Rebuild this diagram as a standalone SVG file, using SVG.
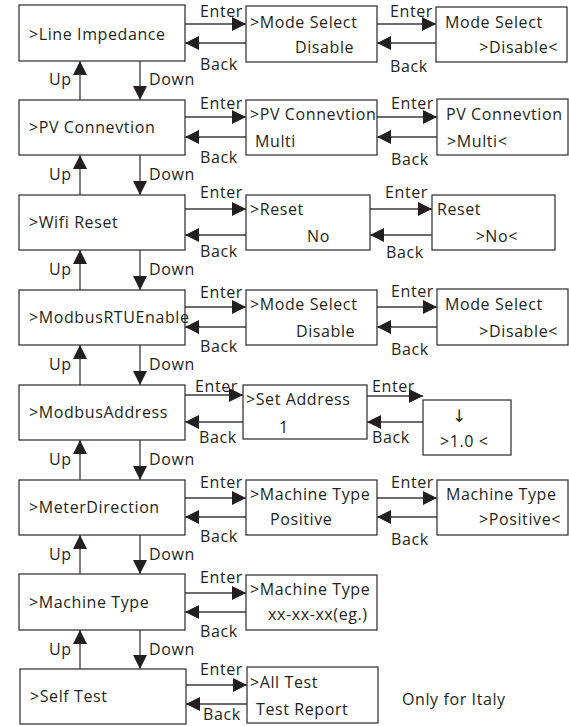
<svg xmlns="http://www.w3.org/2000/svg" width="569" height="726" viewBox="0 0 569 726">
<style>
.box{fill:#fff;stroke:#3a3a3a;stroke-width:1.3}
.t{font-family:"Open Sans","Noto Sans",sans-serif;font-size:16px;fill:#231f20;letter-spacing:0.6px}
.e{text-anchor:end}
.c{stroke:#3a3a3a;stroke-width:1.3;fill:none;marker-end:url(#ah)}
</style>
<defs>
<marker id="ah" viewBox="0 0 14 14" refX="14" refY="7" markerWidth="14" markerHeight="14" orient="auto" markerUnits="userSpaceOnUse"><path d="M0,0 L14,7 L0,14 z" fill="#231f20"/></marker>
</defs>
<rect width="569" height="726" fill="#fff"/>
<g id="connectors">
<line class="c" x1="185" y1="24" x2="246" y2="24"/><line class="c" x1="246" y1="43" x2="185" y2="43"/>
<line class="c" x1="377" y1="24" x2="436" y2="24"/><line class="c" x1="436" y1="43" x2="377" y2="43"/>
<text class="t" x="200" y="17">Enter</text><text class="t" x="200" y="70">Back</text>
<text class="t" x="390" y="17">Enter</text><text class="t" x="390" y="72">Back</text>
<line class="c" x1="185" y1="117" x2="246" y2="117"/><line class="c" x1="246" y1="137" x2="185" y2="137"/>
<line class="c" x1="377" y1="117" x2="437" y2="117"/><line class="c" x1="437" y1="137" x2="377" y2="137"/>
<text class="t" x="200" y="109">Enter</text><text class="t" x="200" y="163">Back</text>
<text class="t" x="391" y="109">Enter</text><text class="t" x="391" y="165">Back</text>
<line class="c" x1="185" y1="209" x2="246" y2="209"/><line class="c" x1="246" y1="235" x2="185" y2="235"/>
<line class="c" x1="370" y1="209" x2="432" y2="209"/><line class="c" x1="432" y1="235" x2="370" y2="235"/>
<text class="t" x="200" y="198">Enter</text><text class="t" x="200" y="257">Back</text>
<text class="t" x="385" y="198">Enter</text><text class="t" x="386" y="258">Back</text>
<line class="c" x1="185" y1="307" x2="246" y2="307"/><line class="c" x1="246" y1="327" x2="185" y2="327"/>
<line class="c" x1="377" y1="307" x2="437" y2="307"/><line class="c" x1="437" y1="327" x2="377" y2="327"/>
<text class="t" x="200" y="298">Enter</text><text class="t" x="200" y="352">Back</text>
<text class="t" x="391" y="297">Enter</text><text class="t" x="391" y="355">Back</text>
<line class="c" x1="185" y1="395" x2="243" y2="395"/><line class="c" x1="243" y1="422" x2="185" y2="422"/>
<line class="c" x1="367" y1="396" x2="423" y2="396"/><line class="c" x1="423" y1="422" x2="367" y2="422"/>
<text class="t" x="195" y="392">Enter</text><text class="t" x="199" y="443">Back</text>
<text class="t" x="372" y="392">Enter</text><text class="t" x="372" y="443">Back</text>
<line class="c" x1="185" y1="498" x2="246" y2="498"/><line class="c" x1="246" y1="517" x2="185" y2="517"/>
<line class="c" x1="377" y1="498" x2="437" y2="498"/><line class="c" x1="437" y1="517" x2="377" y2="517"/>
<text class="t" x="200" y="488">Enter</text><text class="t" x="200" y="542">Back</text>
<text class="t" x="391" y="488">Enter</text><text class="t" x="391" y="545">Back</text>
<line class="c" x1="185" y1="593" x2="246" y2="593"/><line class="c" x1="246" y1="612" x2="185" y2="612"/>
<text class="t" x="200" y="583">Enter</text><text class="t" x="200" y="637">Back</text>
<line class="c" x1="186" y1="685" x2="247" y2="685"/><line class="c" x1="247" y1="704" x2="186" y2="704"/>
<text class="t" x="200" y="675">Enter</text><text class="t" x="203" y="720">Back</text>
<line class="c" x1="80" y1="100" x2="80" y2="61"/><line class="c" x1="140" y1="61" x2="140" y2="100"/>
<text class="t" x="49" y="85">Up</text><text class="t" x="149" y="85">Down</text>
<line class="c" x1="80" y1="195" x2="80" y2="155"/><line class="c" x1="140" y1="155" x2="140" y2="195"/>
<text class="t" x="49" y="180">Up</text><text class="t" x="149" y="180">Down</text>
<line class="c" x1="80" y1="290" x2="80" y2="250"/><line class="c" x1="140" y1="250" x2="140" y2="290"/>
<text class="t" x="49" y="275">Up</text><text class="t" x="149" y="275">Down</text>
<line class="c" x1="80" y1="385" x2="80" y2="345"/><line class="c" x1="140" y1="345" x2="140" y2="385"/>
<text class="t" x="49" y="370">Up</text><text class="t" x="149" y="370">Down</text>
<line class="c" x1="80" y1="480" x2="80" y2="440"/><line class="c" x1="140" y1="440" x2="140" y2="480"/>
<text class="t" x="49" y="465">Up</text><text class="t" x="149" y="465">Down</text>
<line class="c" x1="80" y1="574" x2="80" y2="535"/><line class="c" x1="140" y1="535" x2="140" y2="574"/>
<text class="t" x="49" y="560">Up</text><text class="t" x="149" y="560">Down</text>
<line class="c" x1="80" y1="669" x2="80" y2="630"/><line class="c" x1="140" y1="630" x2="140" y2="669"/>
<text class="t" x="49" y="655">Up</text><text class="t" x="149" y="655">Down</text>
</g>
<g id="n-line-impedance"><rect class="box" x="19" y="5" width="166" height="56"/><text class="t" x="29" y="40">&gt;Line Impedance</text></g>
<g id="n-mode-select-1"><rect class="box" x="246" y="6" width="131" height="56"/><text class="t" x="250" y="28">&gt;Mode Select</text><text class="t" x="295" y="53">Disable</text></g>
<g id="n-mode-select-1b"><rect class="box" x="436" y="7" width="131" height="55"/><text class="t" x="445" y="28">Mode Select</text><text class="t e" x="558" y="53">&gt;Disable&lt;</text></g>

<g id="n-pv-connevtion"><rect class="box" x="19" y="100" width="166" height="55"/><text class="t" x="29" y="133">&gt;PV Connevtion</text></g>
<g id="n-pv-1"><rect class="box" x="246" y="100" width="131" height="55"/><text class="t" x="250" y="120">&gt;PV Connevtion</text><text class="t" x="255" y="147">Multi</text></g>
<g id="n-pv-2"><rect class="box" x="437" y="99" width="131" height="56"/><text class="t" x="446" y="120">PV Connevtion</text><text class="t" x="447" y="147">&gt;Multi&lt;</text></g>

<g id="n-wifi-reset"><rect class="box" x="19" y="195" width="166" height="55"/><text class="t" x="29" y="228">&gt;Wifi Reset</text></g>
<g id="n-reset-1"><rect class="box" x="246" y="195" width="124" height="55"/><text class="t" x="250" y="215">&gt;Reset</text><text class="t" x="307" y="242">No</text></g>
<g id="n-reset-2"><rect class="box" x="432" y="195" width="123" height="55"/><text class="t" x="437" y="215">Reset</text><text class="t e" x="518" y="242">&gt;No&lt;</text></g>

<g id="n-modbus-rtu"><rect class="box" x="19" y="290" width="166" height="55"/><text class="t" x="29" y="323">&gt;ModbusRTUEnable</text></g>
<g id="n-mode-select-4"><rect class="box" x="246" y="290" width="131" height="55"/><text class="t" x="250" y="310">&gt;Mode Select</text><text class="t" x="296" y="337">Disable</text></g>
<g id="n-mode-select-4b"><rect class="box" x="437" y="289" width="131" height="56"/><text class="t" x="445" y="310">Mode Select</text><text class="t e" x="558" y="337">&gt;Disable&lt;</text></g>

<g id="n-modbus-address"><rect class="box" x="19" y="385" width="166" height="55"/><text class="t" x="29" y="418">&gt;ModbusAddress</text></g>
<g id="n-set-address"><rect class="box" x="243" y="385" width="124" height="54"/><text class="t" x="246" y="405">&gt;Set Address</text><text class="t" x="279" y="433">1</text></g>
<g id="n-address-value"><rect class="box" x="423" y="400" width="88" height="55"/><text class="t" x="452" y="422" style="font-family:'DejaVu Sans',sans-serif;font-size:17px">↓</text><text class="t" x="440" y="447">&gt;1.0 &lt;</text></g>

<g id="n-meter-direction"><rect class="box" x="19" y="480" width="166" height="55"/><text class="t" x="29" y="513">&gt;MeterDirection</text></g>
<g id="n-meter-1"><rect class="box" x="246" y="480" width="131" height="55"/><text class="t" x="250" y="500">&gt;Machine Type</text><text class="t" x="270" y="525">Positive</text></g>
<g id="n-meter-2"><rect class="box" x="437" y="480" width="131" height="55"/><text class="t" x="446" y="500">Machine Type</text><text class="t e" x="561" y="525">&gt;Positive&lt;</text></g>

<g id="n-machine-type"><rect class="box" x="19" y="574" width="166" height="56"/><text class="t" x="29" y="608">&gt;Machine Type</text></g>
<g id="n-machine-type-1"><rect class="box" x="246" y="575" width="131" height="55"/><text class="t" x="250" y="595">&gt;Machine Type</text><text class="t" x="268" y="620">xx-xx-xx(eg.)</text></g>

<g id="n-self-test"><rect class="box" x="20" y="669" width="166" height="55"/><text class="t" x="30" y="702">&gt;Self Test</text></g>
<g id="n-self-test-1"><rect class="box" x="247" y="667" width="131" height="56"/><text class="t" x="250" y="688">&gt;All Test</text><text class="t" x="256" y="715">Test Report</text></g>
<g id="n-note"><text class="t" x="402" y="705">Only for Italy</text></g>
</svg>
